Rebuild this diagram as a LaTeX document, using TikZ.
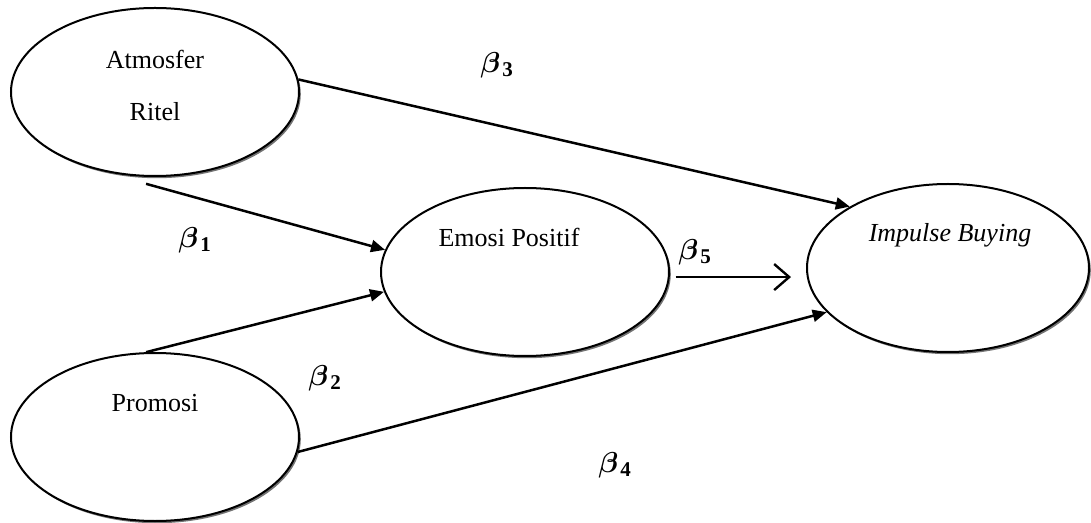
\documentclass[tikz,border=0pt]{standalone}
\usepackage{fontspec}
\usepackage{amsmath,amssymb,bm}
\setmainfont{Liberation Serif}
\usetikzlibrary{shapes.geometric,arrows.meta,shadows,calc}
\begin{document}
\begin{tikzpicture}[x=0.5pt,y=-0.5pt,
  ell/.style={draw, ellipse, line width=1pt, fill=white, inner sep=0pt,
    minimum width=144pt, minimum height=84pt,
    drop shadow={shadow xshift=0.9pt, shadow yshift=-1.1pt, fill=black!55, opacity=1}},
  txt/.style={font=\fontsize{13}{15}\selectfont, inner sep=0pt},
  beta/.style={font=\fontsize{15}{17}\selectfont, inner sep=0pt},
  conn/.style={line width=1.25pt, -{Triangle[length=7pt,width=6pt]}},
  openconn/.style={line width=1.25pt, -{Straight Barb[length=7.5pt,width=13pt,line width=1.2pt]}}
]
\useasboundingbox (0,0) rectangle (1091,523);
\node[ell] (ar) at (155,92) {};
\node[ell] (pr) at (155,437) {};
\node[ell] (em) at (525,272) {};
\node[ell, minimum width=141pt] (ib) at (948,268) {};

\node[txt] (t1) at (155,59) {Atmosfer};
\node[txt] (t2) at (155,112) {Ritel};
\node[txt] (t3) at (155,403) {Promosi};
\node[txt] (t4) at (509,237) {Emosi Positif};
\node[txt] (t5) at (950,235) {\itshape Impulse Buying};

\draw[conn] (ar.5.5) -- (ib.148.5);
\draw[conn] ($(ar.-96)+(0,7)$) -- (em.171.4);
\draw[conn] (pr.96.7) -- (em.-172.9);
\draw[conn] (pr.-6.3) -- (ib.-160.2);
\draw[openconn, shorten <=3pt, shorten >=7.5pt] (em.-2) -- (em.-2 -| ib.west);

\node[beta] (b1) at (195,240) {$\bm{\beta}_{\hspace{1.5pt}\mathbf{1}}$};
\node[beta] (b2) at (325,378) {$\bm{\beta}_{\hspace{1.5pt}\mathbf{2}}$};
\node[beta] (b3) at (497,65) {$\bm{\beta}_{\hspace{1.5pt}\mathbf{3}}$};
\node[beta] (b4) at (615,465) {$\bm{\beta}_{\hspace{1.5pt}\mathbf{4}}$};
\node[beta] (b5) at (695,252) {$\bm{\beta}_{\hspace{1.5pt}\mathbf{5}}$};
\end{tikzpicture}
\end{document}
